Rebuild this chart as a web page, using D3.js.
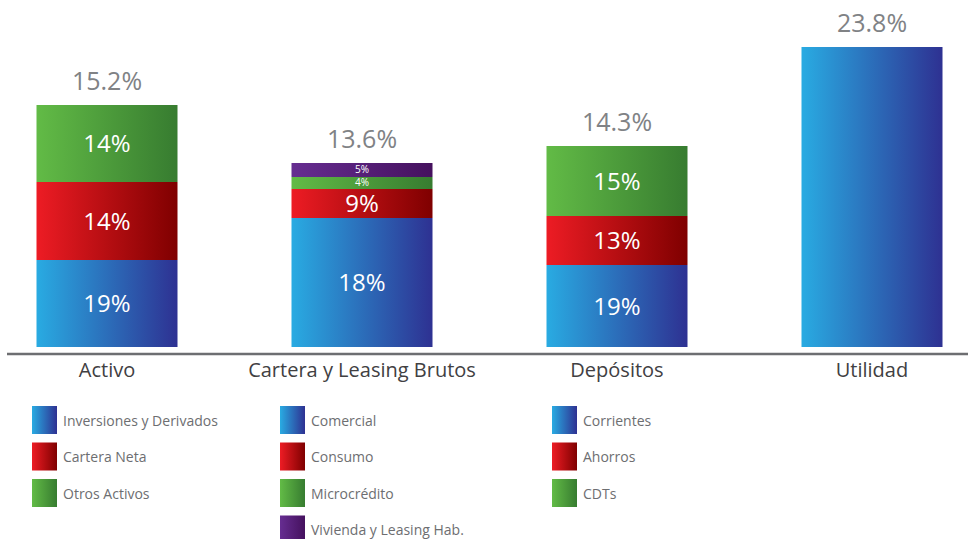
<!DOCTYPE html>
<html>
<head>
<meta charset="utf-8">
<script src="https://cdn.jsdelivr.net/npm/d3@7"></script>
<style>
  html, body { margin: 0; padding: 0; background: #fff; }
  svg { display: block; font-family: 'Open Sans', sans-serif; }
  .total-label { fill: #808285; font-size: 25px; }
  .seg-label { fill: #fff; text-anchor: middle; dominant-baseline: central; }
  .cat-label { fill: #414042; font-size: 20px; text-anchor: middle; }
  .legend-text { fill: #6d6e71; font-size: 14px; dominant-baseline: central; }
</style>
</head>
<body>
<svg id="chart" width="968" height="539"></svg>
<script>
// categories and headline growth
const categories = ['Activo', 'Cartera y Leasing Brutos', 'Depósitos', 'Utilidad'];
const totals = [15.2, 13.6, 14.3, 23.8];

// growth of each component (label shown in the segment), bottom to top
const activoGrowth = [19, 14, 14];
const carteraGrowth = [18, 9, 4, 5];
const depositosGrowth = [19, 13, 15];
const utilidadGrowth = [null];

// relative size of each segment (same units for all bars)
const activoSize = [87, 78, 77];
const carteraSize = [129, 29, 12, 14];
const depositosSize = [82, 49, 70];
const utilidadSize = [300];

// legend entries, one column per bar
const activoLegend = ['Inversiones y Derivados', 'Cartera Neta', 'Otros Activos'];
const carteraLegend = ['Comercial', 'Consumo', 'Microcrédito', 'Vivienda y Leasing Hab.'];
const depositosLegend = ['Corrientes', 'Ahorros', 'CDTs'];

const gradients = [
  ['#29abe2', '#2e3192'],
  ['#ed1c24', '#7f0000'],
  ['#62bb46', '#377c30'],
  ['#662d91', '#45115e']
];

const growth = [activoGrowth, carteraGrowth, depositosGrowth, utilidadGrowth];
const sizes = [activoSize, carteraSize, depositosSize, utilidadSize];
const legends = [activoLegend, carteraLegend, depositosLegend];

const svg = d3.select('#chart');
const defs = svg.append('defs');

gradients.forEach((g, i) => {
  const lg = defs.append('linearGradient')
    .attr('id', 'grad' + i)
    .attr('x1', '0%').attr('x2', '100%')
    .attr('y1', '0%').attr('y2', '0%');
  lg.append('stop').attr('offset', '0%').attr('stop-color', g[0]);
  lg.append('stop').attr('offset', '100%').attr('stop-color', g[1]);
});

const x = d3.scalePoint().domain(categories).range([107, 872]);
const y = d3.scaleLinear().domain([0, 300]).range([347, 47]);
const barW = 141;

// build stacked rows
const bars = categories.map((c, i) => {
  let acc = 0;
  const segs = sizes[i].map((s, j) => {
    const seg = { cat: c, idx: j, y0: acc, y1: acc + s, label: growth[i][j] };
    acc += s;
    return seg;
  });
  return { cat: c, total: totals[i], top: acc, segs };
});

const barG = svg.append('g').attr('class', 'bars');

const groups = barG.selectAll('.bar')
  .data(bars)
  .enter()
  .append('g')
  .attr('class', 'bar');

groups.selectAll('rect')
  .data(d => d.segs)
  .enter()
  .append('rect')
  .attr('x', d => x(d.cat) - barW / 2)
  .attr('width', barW)
  .attr('y', d => y(d.y1))
  .attr('height', d => y(d.y0) - y(d.y1))
  .attr('fill', d => `url(#grad${d.idx})`);

groups.selectAll('.seg-label')
  .data(d => d.segs.filter(s => s.label !== null))
  .enter()
  .append('text')
  .attr('class', 'seg-label')
  .attr('x', d => x(d.cat))
  .attr('y', d => (y(d.y0) + y(d.y1)) / 2 - 1)
  .style('font-size', d => (y(d.y0) - y(d.y1)) < 20 ? '10px' : '24px')
  .text(d => d.label + '%');

groups.append('text')
  .attr('class', 'total-label')
  .attr('x', d => x(d.cat))
  .attr('y', d => y(d.top) - 15)
  .attr('text-anchor', 'middle')
  .text(d => d.total.toFixed(1) + '%');

// axis baseline
svg.append('line')
  .attr('x1', 7).attr('x2', 968)
  .attr('y1', 354).attr('y2', 354)
  .attr('stroke', '#6d6e71')
  .attr('stroke-width', 2.5);

svg.selectAll('.cat-label')
  .data(categories)
  .enter()
  .append('text')
  .attr('class', 'cat-label')
  .attr('x', d => x(d))
  .attr('y', 377)
  .text(d => d);

// legends
const legendX = [32, 280, 552];
const rowY = d3.scaleLinear().domain([0, 1]).range([420, 456.5]);

legends.forEach((items, col) => {
  const lg = svg.append('g').attr('class', 'legend');
  const row = lg.selectAll('g')
    .data(items)
    .enter()
    .append('g')
    .attr('transform', (d, i) => `translate(${legendX[col]},${rowY(i)})`);
  row.append('rect')
    .attr('x', 0).attr('y', -14)
    .attr('width', 25).attr('height', 28)
    .attr('fill', (d, i) => `url(#grad${i})`);
  row.append('text')
    .attr('class', 'legend-text')
    .attr('x', 31).attr('y', 0)
    .text(d => d);
});
</script>
</body>
</html>
